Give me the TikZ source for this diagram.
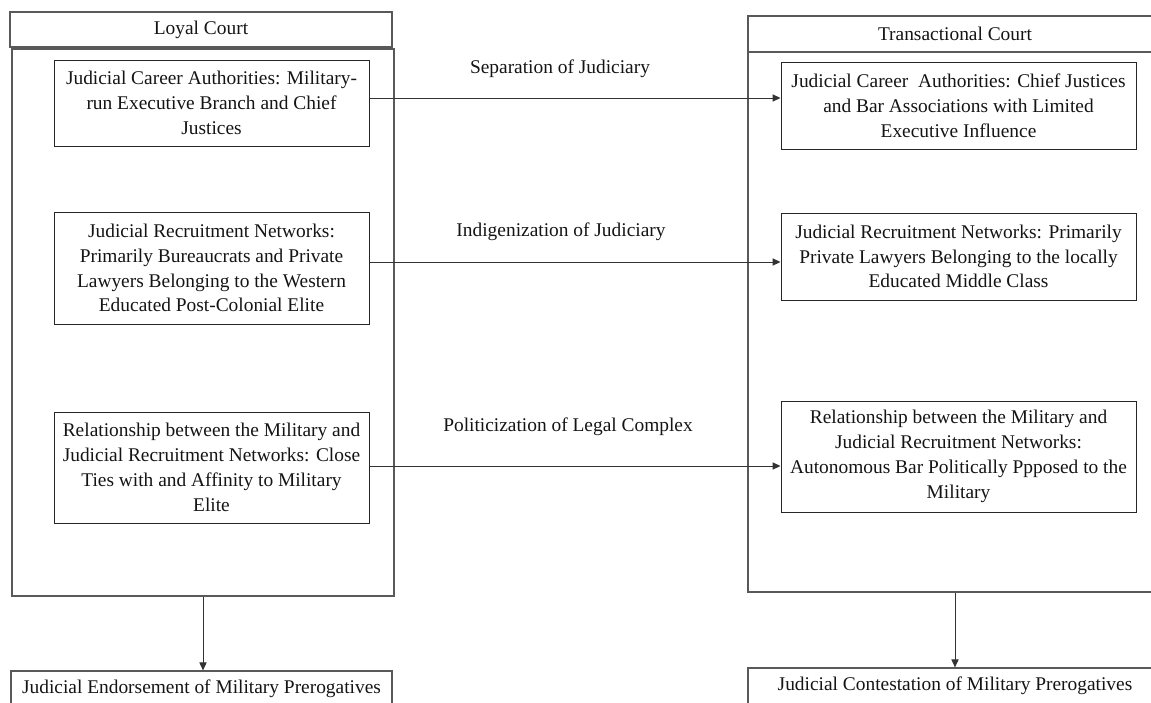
\documentclass[tikz,border=0pt]{standalone}
\usepackage{fontspec}
\setmainfont{Liberation Serif}
\usetikzlibrary{arrows.meta}
\tikzset{
  box/.style={draw=black!85, line width=0.5pt, align=center, inner sep=0pt, text=black!92},
  frame/.style={draw=black!65, line width=0.6pt, inner sep=0pt, text=black!92},
  link/.style={draw=black!80, line width=0.5pt, -{Triangle[length=4pt,width=3.6pt]}}
}
\begin{document}
\begin{tikzpicture}[x=0.5pt, y=-0.5pt, font=\fontsize{9.7}{12.4}\selectfont]
    \clip (0,0) rectangle (1151,702);
    % the two courts
    \node[frame, minimum width=191pt, minimum height=273.5pt] (loyalframe) at (203,322.5) {};
    \node[frame, minimum width=191pt, minimum height=17.5pt] (loyal) at (201,29.5) {Loyal Court};
    \node[frame, minimum width=207pt, minimum height=270pt] (transframe) at (955,322) {};
    \node[frame, minimum width=207pt, minimum height=18pt] (trans) at (955,34) {Transactional Court};
    % left column
    \node[box, minimum width=157.5pt, minimum height=43pt] (lc1) at (211.5,103)
        {Judicial Career Authorities: Military-\\run Executive Branch and Chief\\Justices};
    \node[box, minimum width=157.5pt, minimum height=56pt] (lc2) at (211.5,268)
        {Judicial Recruitment Networks:\\Primarily Bureaucrats and Private\\Lawyers Belonging to the Western\\Educated Post-Colonial Elite};
    \node[box, minimum width=157.5pt, minimum height=55.5pt] (lc3) at (211.5,467.5)
        {Relationship between the Military and\\Judicial Recruitment Networks: Close\\Ties with and Affinity to Military\\Elite};
    % right column
    \node[box, minimum width=177.5pt, minimum height=43.5pt] (rc1) at (958.5,105.5)
        {Judicial Career~ Authorities: Chief Justices\\and Bar Associations with Limited\\Executive Influence};
    \node[box, minimum width=177.5pt, minimum height=43.5pt] (rc2) at (958.5,256.5)
        {Judicial Recruitment Networks: Primarily\\Private Lawyers Belonging to the locally\\Educated Middle Class};
    \node[box, minimum width=177.5pt, minimum height=55.5pt] (rc3) at (958.5,456.5)
        {Relationship between the Military and\\Judicial Recruitment Networks:\\Autonomous Bar Politically Ppposed to the\\Military};
    % transitions
    \path (560,69) node[text=black!92] (sep) {Separation of Judiciary};
    \path (561,232) node[text=black!92] (indig) {Indigenization of Judiciary};
    \path (568,427) node[text=black!92] (polit) {Politicization of Legal Complex};
    \draw[link] ([yshift=2.5pt]lc1.east) -- ([yshift=2.5pt]lc1.east -| rc1.west);
    \draw[link] ([yshift=3pt]lc2.east) -- ([yshift=3pt]lc2.east -| rc2.west);
    \draw[link] ([yshift=0.75pt]lc3.east) -- ([yshift=0.75pt]lc3.east -| rc3.west);
    % outcomes
    \node[frame, minimum width=190.5pt, minimum height=18pt] (endorse) at (201.5,689)
        {Judicial Endorsement of Military Prerogatives};
    \node[frame, minimum width=207pt, minimum height=18pt] (contest) at (955,686)
        {Judicial Contestation of Military Prerogatives};
    \draw[link] (loyalframe.south) -- (loyalframe.south |- endorse.north);
    \draw[link] (transframe.south) -- (contest.north);
\end{tikzpicture}
\end{document}
